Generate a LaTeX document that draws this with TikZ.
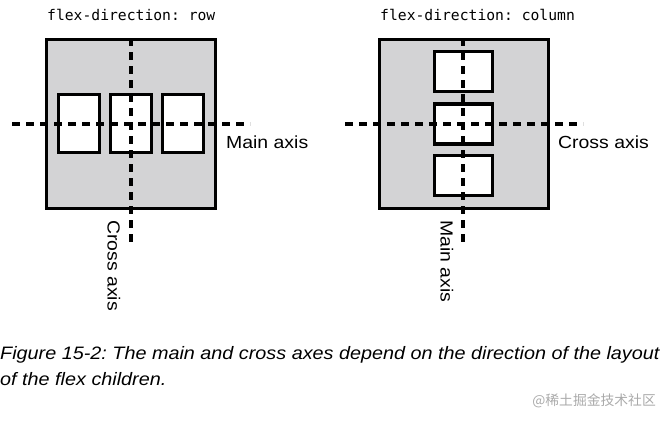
\documentclass[tikz,border=0pt]{standalone}
\usepackage{fontspec}
\setmainfont{Liberation Sans}
\newfontfamily\monof{DejaVu Sans Mono}
\newfontfamily\labf[FakeStretch=1.11]{Liberation Sans}
\newfontfamily\capf[FakeStretch=1.10]{Liberation Sans}
\newfontfamily\cjkf{Noto Sans CJK SC}
\frenchspacing
\definecolor{panelgray}{RGB}{211,211,213}
\definecolor{wmgray}{RGB}{170,170,170}
\tikzset{
  panel/.style={draw=black, line width=3.3pt, fill=panelgray, minimum width=169pt, minimum height=169pt, inner sep=0pt},
  itemh/.style={draw=black, line width=3.3pt, fill=white, minimum width=41pt, minimum height=58pt, inner sep=0pt},
  itemv/.style={draw=black, line width=3.3pt, fill=white, minimum width=58pt, minimum height=40pt, inner sep=0pt},
  axisline/.style={line width=3.3pt, dash pattern=on 8pt off 6pt},
  titletext/.style={font=\monof\fontsize{14.7}{16}\selectfont, anchor=west, inner sep=0pt},
  axislabel/.style={font=\labf\fontsize{17.5}{20}\selectfont, inner sep=0pt},
  captext/.style={font=\capf\itshape\fontsize{18}{20}\selectfont, anchor=west, inner sep=0pt},
}
\begin{document}
\begin{tikzpicture}[x=1pt,y=-1pt]
\useasboundingbox (0,0) rectangle (667,421);
% left panel
\node[titletext] (t1) at (47,15) {flex-direction: row};
\node[panel] (p1) at (131,124) {};
\node[itemh] (a1) at (79,123.5) {};
\node[itemh] (a2) at (131,123.5) {};
\node[itemh] (a3) at (183,123.5) {};
\coordinate (h1s) at (12,124);
\coordinate (h1e) at (250,124);
\coordinate (v1s) at (131,38);
\coordinate (v1e) at (131,243);
\draw[axisline] (h1s) -- (h1e);
\draw[axisline] (v1s) -- (v1e);
\node[axislabel, anchor=west] (m1) at (226,142) {Main axis};
\node[axislabel, anchor=west, rotate=-90] (c1) at (114,220) {Cross axis};
% right panel
\node[titletext] (t2) at (380,15) {flex-direction: column};
\node[panel] (p2) at (464,124) {};
\node[itemv] (b1) at (463.5,71.5) {};
\node[itemv] (b2) at (463.5,124) {};
\node[itemv] (b3) at (463.5,175.5) {};
\coordinate (h2s) at (345,124);
\coordinate (h2e) at (583,124);
\coordinate (v2s) at (463,38);
\coordinate (v2e) at (463,243);
\draw[axisline] (h2s) -- (h2e);
\draw[axisline] (v2s) -- (v2e);
\node[axislabel, anchor=west] (c2) at (558,142) {Cross axis};
\node[axislabel, anchor=west, rotate=-90] (m2) at (447,220) {Main axis};
% caption
\node[captext] (cap1) at (0,355) {Figure 15-2: The main and cross axes depend on the direction of the layout};
\node[captext] (cap2) at (0,379) {of the flex children.};
\node[font=\cjkf\fontsize{13.8}{15}\selectfont, text=wmgray, anchor=east, inner sep=0pt] (wm) at (656,401) {@稀土掘金技术社区};
\end{tikzpicture}
\end{document}
